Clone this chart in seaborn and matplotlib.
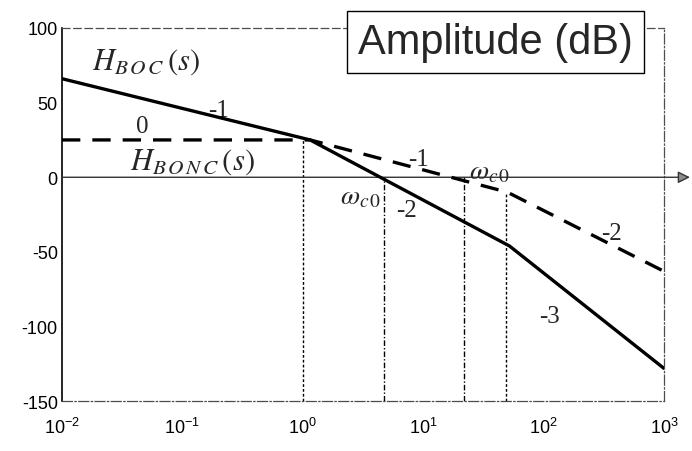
import numpy as np
import pandas as pd
import matplotlib.pyplot as plt
import seaborn as sns

# corner points of the asymptotic Bode amplitude curves
freq_boc = [0.01, 1.15, 52, 1000]
gain_boc = [66, 25, -46, -128]
freq_bonc = [0.01, 1.15, 50, 1000]
gain_bonc = [25, 25, -10, -63]

# vertical guide lines: frequency and height where they stop
guide_freq = [1.0, 4.7, 22, 49]
guide_top = [25, 0, 0, -10]

y_ticks = [100, 50, 0, -50, -100, -150]

sns.set_style('white')
plt.rcParams['font.family'] = ['Liberation Sans', 'DejaVu Sans']
plt.rcParams['mathtext.fontset'] = 'stix'
plt.rcParams['axes.unicode_minus'] = False

fig = plt.figure(figsize=(6.92, 4.52), dpi=100)
ax = fig.add_axes([0.0896, 0.11, 0.87, 0.826])

df_boc = pd.DataFrame({'w': freq_boc, 'dB': gain_boc})
df_bonc = pd.DataFrame({'w': freq_bonc, 'dB': gain_bonc})
sns.lineplot(data=df_boc, x='w', y='dB', ax=ax, color='black', lw=2.4, zorder=4)
sns.lineplot(data=df_bonc, x='w', y='dB', ax=ax, color='black', lw=2.4,
             linestyle=(0, (5.5, 3.6)), zorder=4)

ax.set_xscale('log')
ax.set_xlim(0.01, 1000)
ax.set_ylim(-150, 100)
ax.set_yticks(y_ticks)
ax.set_xlabel('')
ax.set_ylabel('')
ax.tick_params(direction='in', length=3, labelsize=13, colors='black')
ax.tick_params(axis='x', pad=11)
ax.tick_params(axis='y', pad=3)
ax.tick_params(which='minor', length=0)

# guides
styles = [(0, (2, 1.5)), (0, (4, 1.5, 1, 1.5)), (0, (4, 1.5, 1, 1.5)), (0, (2, 1.5))]
for f, top, ls in zip(guide_freq, guide_top, styles):
    ax.vlines(f, -150, top, colors='black', lw=1, linestyles=[ls], zorder=3)

# frame
ax.spines['left'].set_color('black')
ax.spines['left'].set_linewidth(1.2)
for s, ls in [('bottom', (0, (8, 2, 1, 2))), ('top', (0, (6, 3))), ('right', (0, (8, 2, 1, 2)))]:
    ax.spines[s].set_color('0.3')
    ax.spines[s].set_linewidth(0.9)
    ax.spines[s].set_linestyle(ls)

# zero axis with arrow
ax.annotate('', xy=(1.043, 0), xycoords=('axes fraction', 'data'),
            xytext=(0, 0), textcoords=('axes fraction', 'data'),
            arrowprops=dict(arrowstyle='-|>', fc='0.55', ec='0.2', lw=1,
                            mutation_scale=18, shrinkA=0, shrinkB=0),
            annotation_clip=False, zorder=3)

ax.text(0.72, 0.962, 'Amplitude (dB)', transform=ax.transAxes, ha='center',
        va='center', fontsize=30, zorder=6,
        bbox=dict(boxstyle='square,pad=0.27', fc='white', ec='black', lw=1))

ax.text(0.05, 78, r'$H_{B\,O\,C}\,(s)$', fontsize=22, ha='center', va='center')
ax.text(0.12, 11, r'$H_{B\,O\,N\,C}\,(s)$', fontsize=22, ha='center', va='center')
ax.text(35.5, 4, r'$\omega_{c\,0}$', fontsize=20, ha='center', va='center')
ax.text(3.0, -13, r'$\omega_{c\,0}$', fontsize=20, ha='center', va='center')

serif = ['Liberation Serif', 'DejaVu Serif']
for x, y, s in [(0.2, 45, '-1'), (0.0464, 34, '0'), (9.1, 12, '-1'),
                (7.2, -22, '-2'), (369, -37, '-2'), (112, -93, '-3')]:
    ax.text(x, y, s, fontsize=18, family=serif, ha='center', va='center')

fig.savefig('out.png', dpi=100)
